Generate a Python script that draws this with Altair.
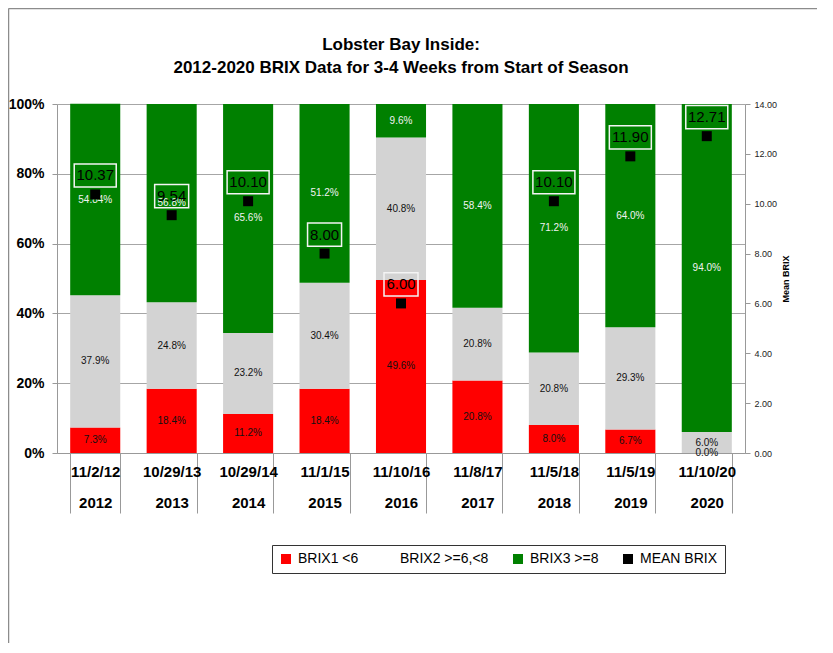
import altair as alt
import pandas as pd

FONT = "Liberation Sans"

years = ["2012", "2013", "2014", "2015", "2016", "2017", "2018", "2019", "2020"]
dates = ["11/2/12", "10/29/13", "10/29/14", "11/1/15", "11/10/16",
         "11/8/17", "11/5/18", "11/5/19", "11/10/20"]
brix1 = [7.3, 18.4, 11.2, 18.4, 49.6, 20.8, 8.0, 6.7, 0.0]
brix2 = [37.9, 24.8, 23.2, 30.4, 40.8, 20.8, 20.8, 29.3, 6.0]
brix3 = [54.84, 56.8, 65.6, 51.2, 9.6, 58.4, 71.2, 64.0, 94.0]
mean_brix = [10.37, 9.54, 10.10, 8.00, 6.00, None, 10.10, 11.90, 12.71]

series_names = ["BRIX1 <6", "BRIX2 >=6,<8", "BRIX3 >=8", "MEAN BRIX"]
legend_colors = ["#FF0000", "#FFFFFF", "#008000", "#000000"]
GRAY = "#D3D3D3"


def pct_label(v):
    return f"{v:.1f}%" if round(v, 1) == v else f"{v:.2f}%"


keys = [f"{d}|{y}" for d, y in zip(dates, years)]

rows = []
for i, key in enumerate(keys):
    start = 0.0
    for s, vals in zip(series_names[:3], [brix1, brix2, brix3]):
        v = vals[i]
        rows.append(dict(key=key, series=s, start=start / 100, end=(start + v) / 100,
                         mid=(start + v / 2) / 100, label=pct_label(v)))
        start += v
bars_df = pd.DataFrame(rows)

mean_rows = [dict(key=k, mean=m, mlabel=f"{m:.2f}") for k, m in zip(keys, mean_brix) if m is not None]
mean_df = pd.DataFrame(mean_rows)

x_enc = alt.X(
    "key:N", sort=keys, title=None,
    scale=alt.Scale(paddingInner=0.345, paddingOuter=0.1725),
    axis=alt.Axis(
        labelExpr="split(datum.label, '|')", labelLineHeight=31, labelAngle=0,
        labelFont=FONT, labelFontSize=15, labelFontWeight="bold", labelColor="black",
        labelBaseline="middle", labelPadding=-41.5,
        tickBand="extent", tickSize=60, tickColor="#999999", tickWidth=1,
        domainColor="#999999", grid=False,
    ),
)

pct_scale = alt.Scale(domain=[0, 1], nice=False, zero=True)

bars = alt.Chart(bars_df).mark_bar().encode(
    x=x_enc,
    y=alt.Y("start:Q", scale=pct_scale, title=None,
            axis=alt.Axis(format=".0%", values=[0, 0.2, 0.4, 0.6, 0.8, 1.0],
                          labelFont=FONT, labelFontSize=14, labelFontWeight="bold",
                          labelColor="black", tickSize=5, tickColor="#999999",
                          domainColor="#999999", labelPadding=8,
                          grid=True, gridColor="#A6A6A6", gridWidth=1)),
    y2="end:Q",
    color=alt.condition(
        f"datum.series === '{series_names[1]}'",
        alt.value(GRAY),
        alt.Color("series:N",
                  scale=alt.Scale(domain=series_names, range=legend_colors),
                  legend=alt.Legend(
                      orient="none", legendX=215, legendY=441, direction="horizontal",
                      columns=4, title=None, symbolType="square", symbolSize=100,
                      symbolStrokeWidth=0, labelFont=FONT, labelFontSize=14,
                      labelColor="black", strokeColor="#333333", padding=7,
                      columnPadding=22, labelOffset=5, fillColor="white")),
    ),
)

pct_text = alt.Chart(bars_df).mark_text(font=FONT, fontSize=10, baseline="middle").encode(
    x=alt.X("key:N", sort=keys),
    y=alt.Y("mid:Q", scale=pct_scale),
    text="label:N",
    color=alt.condition(f"datum.series === '{series_names[2]}'",
                        alt.value("#F2F2F2"), alt.value("#111111")),
)

frame = alt.Chart(alt.Data(values=[{}])).mark_rule(color="#8C8C8C", strokeWidth=1.5).encode(
    x=alt.value(-48.5), x2=alt.value(760), y=alt.value(-95.5))
frame_left = alt.Chart(alt.Data(values=[{}])).mark_rule(color="#8C8C8C", strokeWidth=1.5).encode(
    x=alt.value(-48.5), y=alt.value(-95.5), y2=alt.value(541))

pct_layer = alt.layer(bars, pct_text, frame, frame_left)

mean_scale = alt.Scale(domain=[0, 14], nice=False)

points = alt.Chart(mean_df).mark_point(shape="square", filled=True, size=100,
                                       color="black", opacity=1).encode(
    x=alt.X("key:N", sort=keys),
    y=alt.Y("mean:Q", scale=mean_scale, title="Mean BRIX",
            axis=alt.Axis(orient="right", format=".2f", values=[0, 2, 4, 6, 8, 10, 12, 14],
                          labelFont=FONT, labelFontSize=9, labelColor="#222222",
                          titleFont=FONT, titleFontSize=9, titleFontWeight="bold",
                          titleColor="black", titleAngle=270, titlePadding=14,
                          tickSize=5, tickColor="#999999", domainColor="#999999",
                          labelPadding=4, grid=False)),
)

box5 = alt.Chart(mean_df).transform_filter("length(datum.mlabel) == 5").mark_point(
    shape="M-1,-0.55L1,-0.55L1,0.55L-1,0.55Z", size=1764, filled=False,
    stroke="#F4F4F4", strokeWidth=1.5, opacity=1, yOffset=-19,
).encode(x=alt.X("key:N", sort=keys), y=alt.Y("mean:Q", scale=mean_scale))

box4 = alt.Chart(mean_df).transform_filter("length(datum.mlabel) == 4").mark_point(
    shape="M-1,-0.68L1,-0.68L1,0.68L-1,0.68Z", size=1156, filled=False,
    stroke="#F4F4F4", strokeWidth=1.5, opacity=1, yOffset=-19,
).encode(x=alt.X("key:N", sort=keys), y=alt.Y("mean:Q", scale=mean_scale))

mean_text = alt.Chart(mean_df).mark_text(font=FONT, fontSize=15, color="black",
                                         baseline="middle", dy=-19).encode(
    x=alt.X("key:N", sort=keys),
    y=alt.Y("mean:Q", scale=mean_scale),
    text="mlabel:N",
)

mean_layer = alt.layer(points, box5, box4, mean_text)

chart = alt.layer(pct_layer, mean_layer).resolve_scale(y="independent").properties(
    width=688, height=349,
    title=alt.Title(["Lobster Bay Inside:",
                     "2012-2020 BRIX Data for 3-4 Weeks from Start of Season"],
                    font=FONT, fontSize=17, fontWeight="bold", color="black",
                    anchor="middle", lineHeight=23, offset=18, dy=87),
    autosize=alt.AutoSizeParams(type="none"),
    padding={"left": 49, "top": 96, "right": 78, "bottom": 190},
    background="white",
).configure_view(stroke="transparent")

chart.save("out.html", embed_options={"renderer": "svg", "actions": False})
